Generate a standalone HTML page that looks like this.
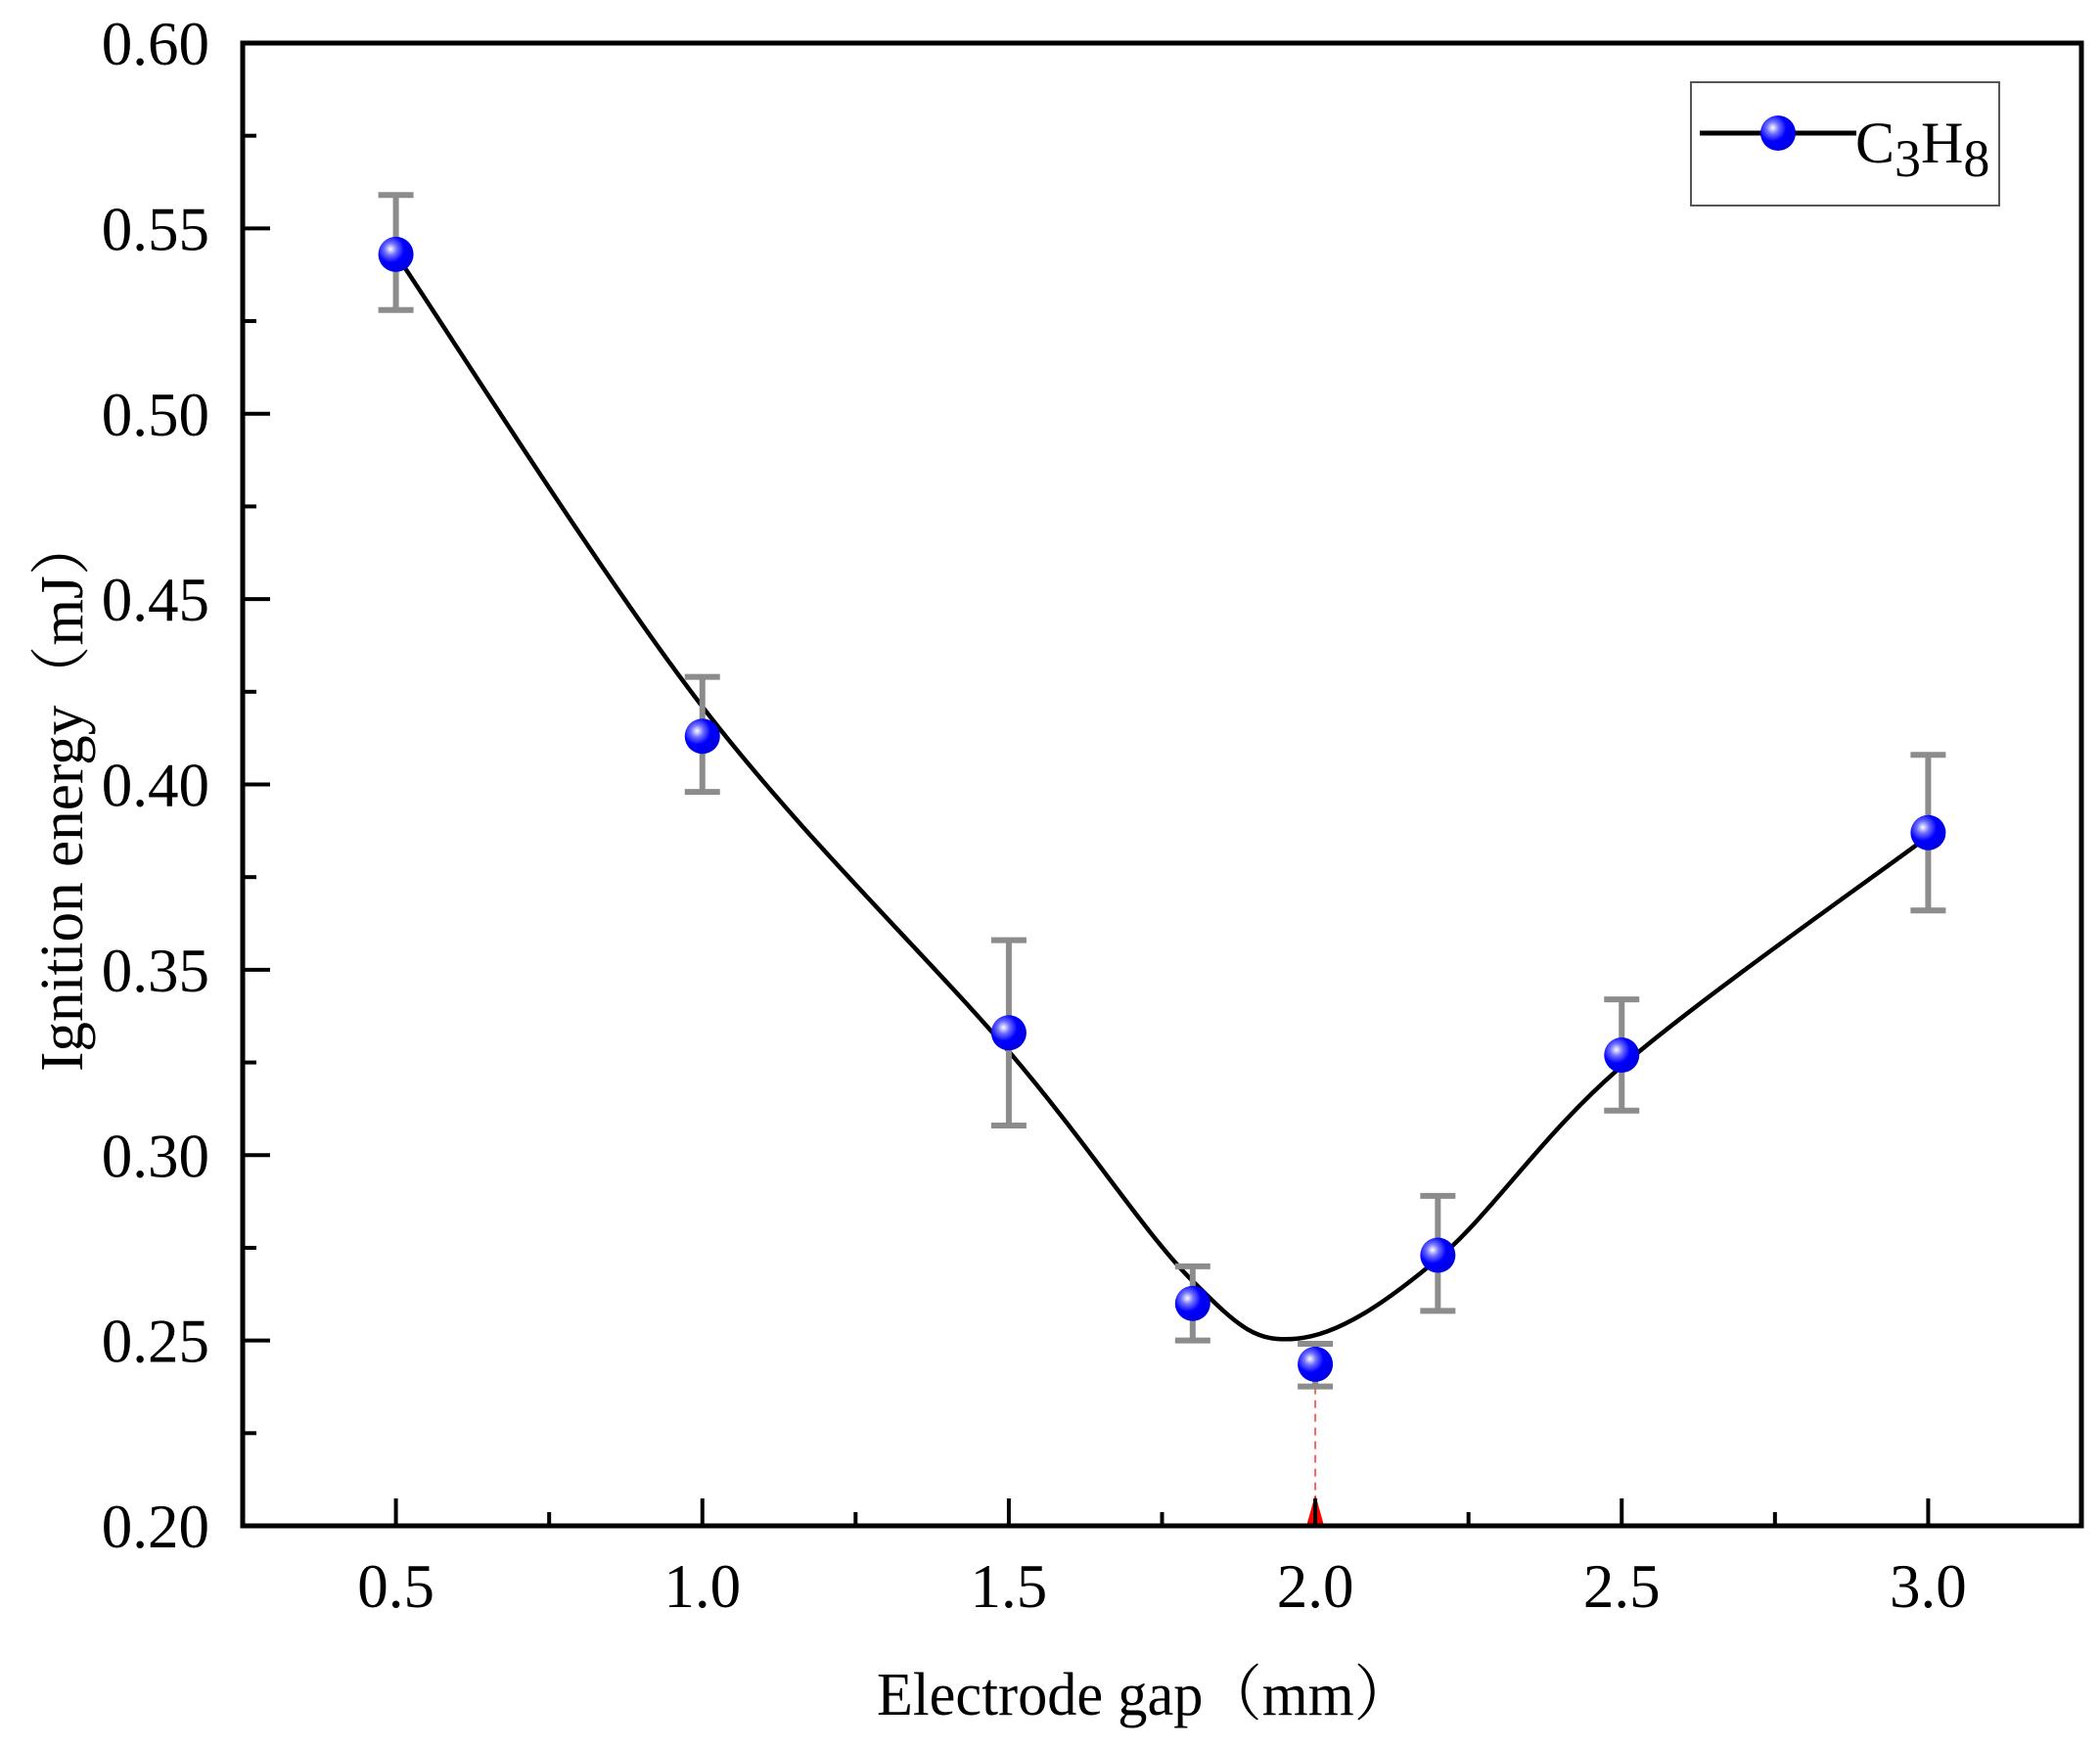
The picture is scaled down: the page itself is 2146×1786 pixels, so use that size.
<!DOCTYPE html>
<html><head><meta charset="utf-8"><style>
html,body{margin:0;padding:0;background:#fff;}
svg{display:block;font-family:"Liberation Serif","Noto Serif CJK SC",serif;}
</style></head><body>
<div style="position:relative;width:2146px;height:1786px;">
<svg id="chart" width="2146" height="1786" viewBox="0 0 2146 1786" xmlns="http://www.w3.org/2000/svg" style="position:absolute;left:0;top:0">
<defs>
<radialGradient id="ball" cx="0.35" cy="0.35" r="0.7">
<stop offset="0" stop-color="#ffffff"/><stop offset="0.25" stop-color="#6f6fff"/><stop offset="0.55" stop-color="#0000ff"/><stop offset="1" stop-color="#0000e0"/>
</radialGradient>
</defs>
<g id="marks"></g>
<g id="axes"></g>
<text x="1170" y="1752" font-size="62" text-anchor="middle" textLength="548" lengthAdjust="spacingAndGlyphs" font-family="Liberation Serif, Noto Serif CJK SC, serif">Electrode gap（mm）</text>
<text transform="translate(84,811) rotate(-90)" font-size="62" text-anchor="middle" textLength="568" lengthAdjust="spacingAndGlyphs" font-family="Liberation Serif, Noto Serif CJK SC, serif">Ignition energy（mJ）</text>
<g>
<rect x="1728" y="84" width="315" height="126" fill="#fff" stroke="#555" stroke-width="2"/>
<line x1="1737" y1="136" x2="1897" y2="136" stroke="#000" stroke-width="5"/>
<circle cx="1817" cy="136" r="18" fill="url(#ball)"/>
<text x="1896" y="166" font-size="60" font-family="Liberation Serif, serif">C<tspan dy="14" font-size="54">3</tspan><tspan dy="-14">H</tspan><tspan dy="14" font-size="54">8</tspan></text>
</g>
</svg>
</div>
<script>
const xs = [0.5, 1.0, 1.5, 1.8, 2.0, 2.2, 2.5, 3.0];
const ys = [0.543, 0.413, 0.333, 0.260, 0.2436, 0.273, 0.327, 0.387];
const errUp = [0.016, 0.016, 0.025, 0.010, 0.0055, 0.016, 0.015, 0.021];
const errDown = [0.015, 0.015, 0.025, 0.010, 0.006, 0.015, 0.015, 0.021];
const fitX = [0.5, 1.0, 1.5, 1.8, 1.97, 2.2, 2.5, 3.0];
const fitY = [0.543, 0.421, 0.328, 0.266, 0.2505, 0.272, 0.324, 0.386];
const xTicks = ["0.5","1.0","1.5","2.0","2.5","3.0"];
const yTicks = ["0.20","0.25","0.30","0.35","0.40","0.45","0.50","0.55","0.60"];

const L=248,R=2127,T=44,B=1559;
const X0=0.25,X1=3.25,Y0=0.2,Y1=0.6;
const sx=v=>L+(v-X0)/(X1-X0)*(R-L);
const sy=v=>B-(v-Y0)/(Y1-Y0)*(B-T);
const NS="http://www.w3.org/2000/svg";
function mk(tag,attrs,parent){const e=document.createElementNS(NS,tag);for(const k in attrs)e.setAttribute(k,attrs[k]);parent.appendChild(e);return e;}
const marks=document.getElementById('marks'), axes=document.getElementById('axes');

const P=fitX.map((x,i)=>[sx(x),sy(fitY[i])]);
let d=`M${P[0][0]},${P[0][1]}`;
for(let i=0;i<P.length-1;i++){const p0=P[Math.max(0,i-1)],p1=P[i],p2=P[i+1],p3=P[Math.min(P.length-1,i+2)];
d+=` C${p1[0]+(p2[0]-p0[0])/6},${p1[1]+(p2[1]-p0[1])/6} ${p2[0]-(p3[0]-p1[0])/6},${p2[1]-(p3[1]-p1[1])/6} ${p2[0]},${p2[1]}`;}
const curve=mk('path',{d:d,fill:'none',stroke:'#000','stroke-width':4.5},marks);



const minI=ys.indexOf(Math.min(...ys));
const dl=mk('line',{x1:sx(xs[minI]),x2:sx(xs[minI]),y1:sy(ys[minI]-errDown[minI]),y2:B-20,stroke:'#ff6060','stroke-width':2,'stroke-dasharray':'8,6'},marks);


const tri=mk('polygon',{points:`${sx(xs[minI])-9},${B} ${sx(xs[minI])+9},${B} ${sx(xs[minI])},${B-32}`,fill:'#ff0000'},marks);



xs.forEach((x,i)=>{
 const g=mk('g',{},marks);
 
 
 const cx=sx(x),t=sy(ys[i]+errUp[i]),b=sy(ys[i]-errDown[i]);
 mk('line',{x1:cx,x2:cx,y1:t,y2:b,stroke:'#8c8c8c','stroke-width':6},g);
 mk('line',{x1:cx-18,x2:cx+18,y1:t,y2:t,stroke:'#8c8c8c','stroke-width':6},g);
 mk('line',{x1:cx-18,x2:cx+18,y1:b,y2:b,stroke:'#8c8c8c','stroke-width':6},g);
 const c=mk('circle',{cx:cx,cy:sy(ys[i]),r:18,fill:'url(#ball)'},marks);
 
 
});

const fr=mk('rect',{x:L,y:T,width:R-L,height:B-T,fill:'none',stroke:'#000','stroke-width':5},axes);


for(let k=0;k<=10;k++){const v=0.5+k*0.25;if(v>X1)break;const major=k%2==0;
 const t=mk('line',{x1:sx(v),x2:sx(v),y1:B,y2:B-(major?28:14),stroke:'#000','stroke-width':4},axes);
 
 }
xTicks.forEach(s=>{const tx=mk('text',{x:sx(parseFloat(s)),y:1642,'font-size':63,'text-anchor':'middle'},axes);tx.textContent=s;
 
 });
for(let k=0;k<=16;k++){const v=0.2+k*0.025;const major=k%2==0;
 const t=mk('line',{x1:L,x2:L+(major?28:14),y1:sy(v),y2:sy(v),stroke:'#000','stroke-width':4},axes);
 
 }
yTicks.forEach(s=>{const tx=mk('text',{x:214,y:sy(parseFloat(s))+22,'font-size':63,'text-anchor':'end'},axes);tx.textContent=s;
 
 });
</script>
</body></html>
